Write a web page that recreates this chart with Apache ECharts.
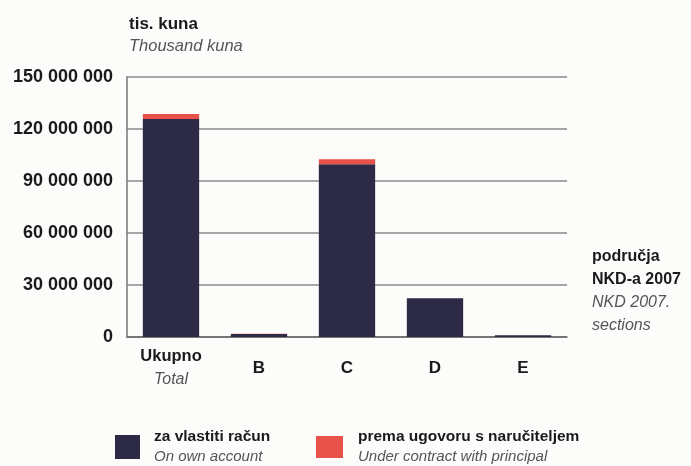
<!DOCTYPE html>
<html lang="hr" style="height: 100%">

<head>
  <meta charset="utf-8">
</head>

<body style="height: 100%; margin: 0; background: #fcfcfa">
  <div id="container" style="width: 691px; height: 466px"></div>

  <script type="text/javascript" src="https://cdn.jsdelivr.net/npm/echarts@6/dist/echarts.min.js"></script>

  <script type="text/javascript">
    // područja NKD-a 2007, vrijednosti u tis. kuna (očitano sa slike)
    var categories = ['Ukupno', 'B', 'C', 'D', 'E'];
    var categoriesEn = ['Total', '', '', '', ''];
    var ownAccount = [125800000, 1800000, 99700000, 22300000, 1000000];
    var underContract = [2800000, 50000, 2800000, 100000, 30000];
    var yTicks = [0, 30000000, 60000000, 90000000, 120000000, 150000000];

    var FONT = '"Liberation Sans", Arial, sans-serif';
    var dark = '#2c2a45';
    var red = '#e9524a';

    var dom = document.getElementById('container');
    var myChart = echarts.init(dom, null, { renderer: 'canvas' });

    function fmt(v) {
      return String(v).replace(/\B(?=(\d{3})+(?!\d))/g, ' ');
    }

    var legendRich = {
      a: { fontFamily: FONT, fontSize: 15.5, fontWeight: 'bold', color: '#1a1a1a', lineHeight: 20 },
      b: { fontFamily: FONT, fontSize: 15, fontStyle: 'italic', color: '#555', lineHeight: 20 }
    };

    var option = {
      backgroundColor: '#fcfcfa',
      animation: false,
      textStyle: { fontFamily: FONT },
      title: {
        left: 124,
        top: 11,
        text: 'tis. kuna',
        subtext: 'Thousand kuna',
        itemGap: 5,
        textStyle: { fontFamily: FONT, fontSize: 17, fontWeight: 'bold', color: '#1a1a1a' },
        subtextStyle: { fontFamily: FONT, fontSize: 16.5, fontStyle: 'italic', color: '#555' }
      },
      grid: { left: 127, right: 124, top: 77, bottom: 129, containLabel: false },
      legend: [
        {
          data: ['za vlastiti račun'],
          left: 110,
          top: 424,
          icon: 'rect',
          itemWidth: 25,
          itemHeight: 24,
          formatter: function (n) { return '{a|' + n + '}\n{b|On own account}'; },
          textStyle: { padding: [0, 0, 0, 9], rich: legendRich }
        },
        {
          data: ['prema ugovoru s naručiteljem'],
          left: 311,
          top: 424,
          icon: 'rect',
          itemWidth: 27,
          itemHeight: 22,
          formatter: function (n) { return '{a|' + n + '}\n{b|Under contract with principal}'; },
          textStyle: { padding: [0, 0, 0, 10], rich: legendRich }
        }
      ],
      xAxis: {
        type: 'category',
        data: categories,
        axisLine: { lineStyle: { color: '#666', width: 1.5 } },
        axisTick: { show: false },
        axisLabel: {
          margin: 8,
          formatter: function (v, i) {
            if (categoriesEn[i]) return '{a|' + v + '}\n{b|' + categoriesEn[i] + '}';
            return '{c|' + v + '}';
          },
          rich: {
            a: { fontFamily: FONT, fontSize: 16.5, fontWeight: 'bold', color: '#1a1a1a', lineHeight: 23 },
            b: { fontFamily: FONT, fontSize: 16, fontStyle: 'italic', color: '#555', lineHeight: 23 },
            c: { fontFamily: FONT, fontSize: 17, fontWeight: 'bold', color: '#1a1a1a', lineHeight: 46 }
          }
        }
      },
      yAxis: {
        type: 'value',
        min: yTicks[0],
        max: yTicks[yTicks.length - 1],
        interval: yTicks[1] - yTicks[0],
        axisLine: { show: true, lineStyle: { color: '#777', width: 1.5 } },
        axisTick: { show: false },
        splitLine: { lineStyle: { color: '#8a8a8a', width: 1.5 } },
        axisLabel: {
          margin: 14,
          fontFamily: FONT,
          fontSize: 18,
          fontWeight: 'bold',
          color: '#1a1a1a',
          formatter: fmt
        }
      },
      series: [
        {
          name: 'za vlastiti račun',
          type: 'bar',
          stack: 'total',
          barWidth: '64%',
          itemStyle: { color: dark },
          data: ownAccount
        },
        {
          name: 'prema ugovoru s naručiteljem',
          type: 'bar',
          stack: 'total',
          itemStyle: { color: red },
          data: underContract
        }
      ],
      graphic: [
        {
          type: 'text',
          left: 592,
          top: 249,
          style: {
            text: '{a|područja}\n{a|NKD-a 2007}\n{b|NKD 2007.}\n{b|sections}',
            rich: {
              a: { fontFamily: FONT, fontSize: 16, fontWeight: 'bold', fill: '#1a1a1a', lineHeight: 23 },
              b: { fontFamily: FONT, fontSize: 16, fontStyle: 'italic', fill: '#555', lineHeight: 23 }
            }
          }
        }
      ]
    };

    myChart.setOption(option);
    window.addEventListener('resize', myChart.resize);
  </script>
</body>

</html>
